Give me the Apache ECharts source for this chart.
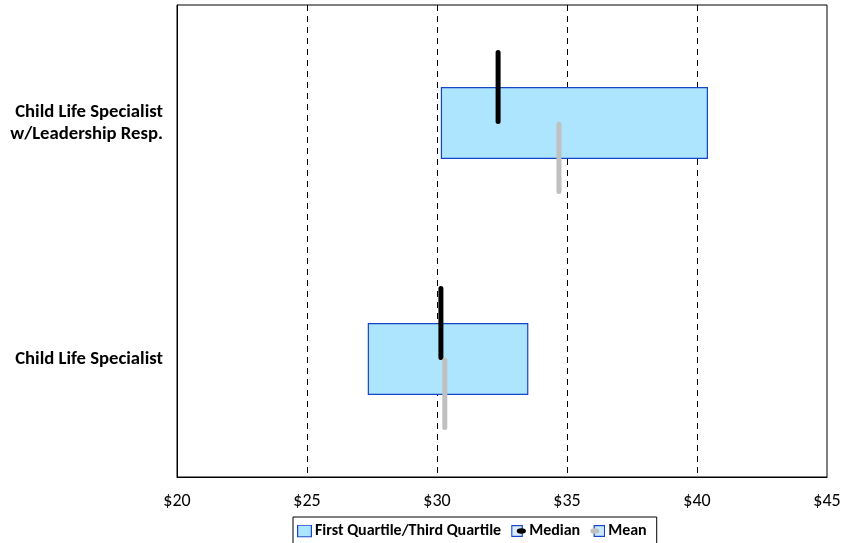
<!DOCTYPE html>
<html>
<head>
<meta charset="utf-8">
<script src="https://cdn.jsdelivr.net/npm/echarts@6/dist/echarts.min.js"></script>
<style>
  html, body { margin: 0; padding: 0; background: #fff; }
  #chart { width: 844px; height: 543px; }
</style>
</head>
<body>
<div id="chart"></div>
<script>
// Hourly rate spread by job title
const categories = ['Child Life Specialist', 'Child Life Specialist\nw/Leadership Resp.'];
const firstQuartile = [27.36, 30.17];
const thirdQuartile = [33.49, 40.40];
const medianValues = [30.15, 32.35];
const meanValues = [30.30, 34.69];
const xTicks = [20, 25, 30, 35, 40, 45];

const BOX_FILL = '#ADE4FE';
const BOX_EDGE = '#1646C8';
const MEDIAN_COLOR = '#000000';
const MEAN_COLOR = '#C0C0C0';
const FONT = 'Carlito, Lato, "Open Sans", sans-serif';

function svgIcon(body) {
  const svg = '<svg xmlns="http://www.w3.org/2000/svg" width="15" height="13" viewBox="0 0 15 13">' + body + '</svg>';
  return 'image://data:image/svg+xml;utf8,' + encodeURIComponent(svg);
}

const boxIcon = svgIcon('<rect x="0.6" y="0.6" width="13.8" height="11.8" fill="' + BOX_FILL + '" stroke="' + BOX_EDGE + '" stroke-width="1.2"/>');
const medianIcon = svgIcon('<rect x="0.6" y="1.1" width="10.5" height="10.8" fill="#DDEBFF" stroke="' + BOX_EDGE + '" stroke-width="1.2"/>' +
  '<ellipse cx="10.2" cy="6.5" rx="4.6" ry="2.8" fill="#000"/>');
const meanIcon = svgIcon('<rect x="4" y="1.1" width="10.4" height="10.8" fill="#C8E8FF" stroke="' + BOX_EDGE + '" stroke-width="1.2"/>' +
  '<ellipse cx="4.6" cy="6.5" rx="4.6" ry="2.8" fill="' + MEAN_COLOR + '"/>');

// interquartile box around each category centre
function renderBox(params, api) {
  const idx = api.value(0);
  const lo = api.coord([api.value(1), idx]);
  const hi = api.coord([api.value(2), idx]);
  const band = api.size([0, 1])[1];
  const h = band * 0.30;
  return {
    type: 'rect',
    shape: { x: lo[0], y: lo[1] - h / 2, width: hi[0] - lo[0], height: h },
    style: { fill: BOX_FILL, stroke: BOX_EDGE, lineWidth: 1.2 }
  };
}

// vertical marker; median sits above the centre line, mean below it
function makeMarker(color, from, to) {
  return function (params, api) {
    const idx = api.value(0);
    const p = api.coord([api.value(1), idx]);
    const band = api.size([0, 1])[1];
    return {
      type: 'line',
      shape: { x1: p[0], y1: p[1] + band * from, x2: p[0], y2: p[1] + band * to },
      style: { stroke: color, lineWidth: 5, lineCap: 'round' }
    };
  };
}

const boxData = categories.map((c, i) => [i, firstQuartile[i], thirdQuartile[i]]);
const medianData = categories.map((c, i) => [i, medianValues[i]]);
const meanData = categories.map((c, i) => [i, meanValues[i]]);

const chart = echarts.init(document.getElementById('chart'), null, { renderer: 'canvas' });
chart.setOption({
  animation: false,
  backgroundColor: '#fff',
  grid: {
    left: 177, right: 17, top: 5, bottom: 66,
    show: true, borderColor: '#000', borderWidth: 1, backgroundColor: 'transparent'
  },
  xAxis: {
    type: 'value',
    min: xTicks[0],
    max: xTicks[xTicks.length - 1],
    interval: 5,
    axisLine: { show: true, lineStyle: { color: '#000', width: 1 } },
    axisTick: { show: false },
    axisLabel: {
      color: '#000', fontFamily: FONT, fontSize: 18, margin: 15,
      formatter: v => '$' + v
    },
    splitLine: {
      show: true, showMinLine: false, showMaxLine: false,
      lineStyle: { color: '#000', width: 1, type: [6, 5] }
    }
  },
  yAxis: {
    type: 'category',
    data: categories,
    axisLine: { show: true, lineStyle: { color: '#000' } },
    axisTick: { show: false },
    axisLabel: {
      color: '#000', fontFamily: FONT, fontSize: 18.7, fontWeight: 'bold',
      lineHeight: 22, align: 'right', margin: 14, padding: [4, 0, 0, 0]
    },
    splitLine: { show: false }
  },
  legend: {
    left: 293,
    top: 517,
    orient: 'horizontal',
    borderColor: '#000',
    borderWidth: 1,
    padding: [6, 10, 12, 4],
    itemWidth: 15,
    itemHeight: 13,
    itemGap: 10,
    textStyle: { color: '#000', fontFamily: FONT, fontSize: 16, fontWeight: 'bold', padding: [0, 0, 0, -2] },
    data: [
      { name: 'First Quartile/Third Quartile', icon: boxIcon },
      { name: 'Median', icon: medianIcon },
      { name: 'Mean', icon: meanIcon }
    ]
  },
  series: [
    {
      name: 'First Quartile/Third Quartile',
      type: 'custom',
      renderItem: renderBox,
      encode: { x: [1, 2], y: 0 },
      data: boxData,
      itemStyle: { color: BOX_FILL },
      z: 2
    },
    {
      name: 'Median',
      type: 'custom',
      renderItem: makeMarker(MEDIAN_COLOR, -0.299, -0.006),
      encode: { x: 1, y: 0 },
      data: medianData,
      itemStyle: { color: MEDIAN_COLOR },
      z: 3
    },
    {
      name: 'Mean',
      type: 'custom',
      renderItem: makeMarker(MEAN_COLOR, 0.005, 0.29),
      encode: { x: 1, y: 0 },
      data: meanData,
      itemStyle: { color: MEAN_COLOR },
      z: 3
    }
  ]
});
</script>
</body>
</html>
